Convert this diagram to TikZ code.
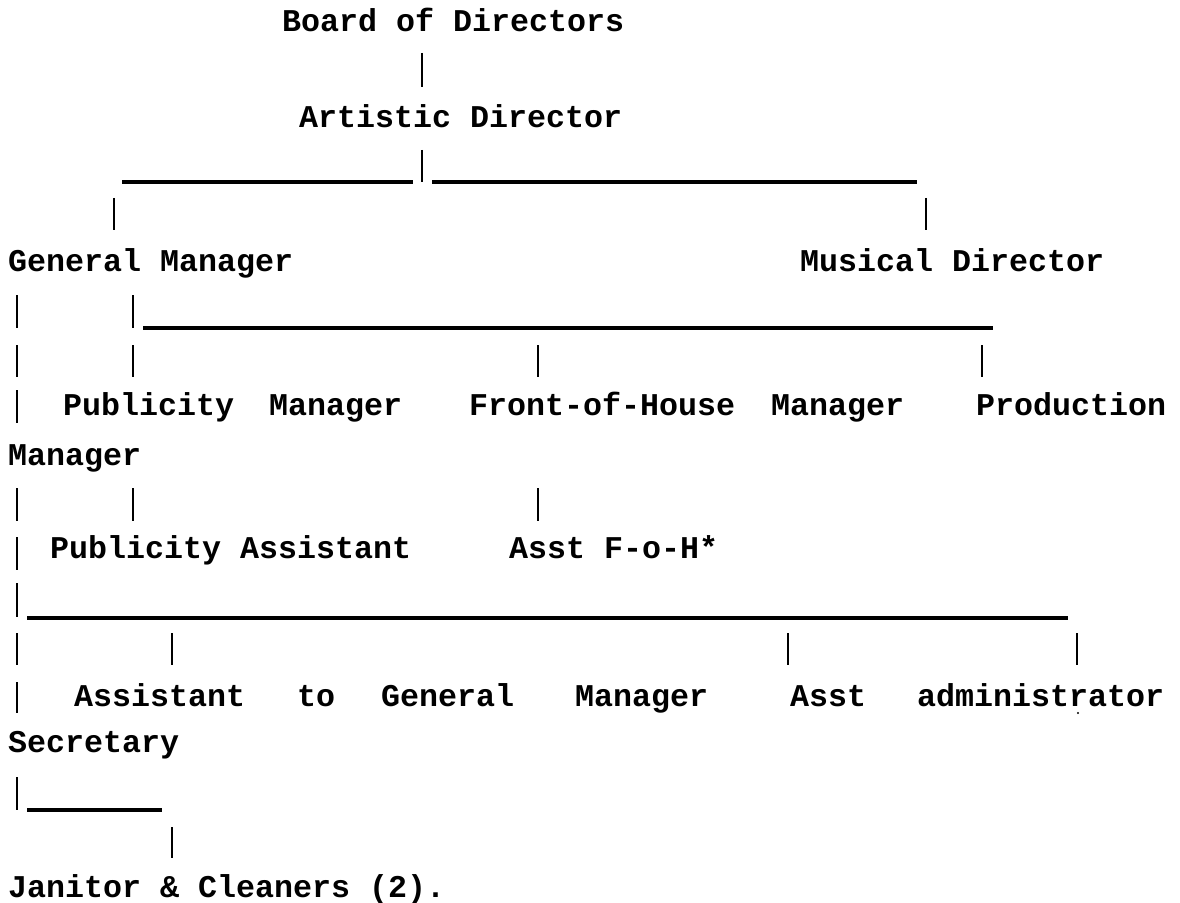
\documentclass[tikz,border=0pt]{standalone}
\usepackage{fontspec}
\setmonofont{Liberation Mono}
\begin{document}
\begin{tikzpicture}[x=0.75pt,y=-0.75pt,
  lbl/.style={anchor=base west,inner sep=0pt,outer sep=0pt,
    font=\ttfamily\bfseries\fontsize{23.75}{28}\selectfont},
  vbar/.style={line width=1.9pt},
  hbar/.style={line width=2.4pt}]
\useasboundingbox (0,0) rectangle (1180,902);
% ---- texts ----
\node[lbl] (board) at (282,32) {Board of Directors};
\node[lbl] (artistic) at (299,128) {Artistic Director};
\node[lbl] (gm) at (8,272) {General Manager};
\node[lbl] (md) at (800,272) {Musical Director};
\node[lbl] (pubA) at (63,415) {Publicity};
\node[lbl] (pubB) at (269,415) {Manager};
\node[lbl] (fohA) at (469,415) {Front-of-House};
\node[lbl] (fohB) at (771,415) {Manager};
\node[lbl] (prodA) at (976,415) {Production};
\node[lbl] (prodB) at (8,465) {Manager};
\node[lbl] (pubass) at (50,558) {Publicity Assistant};
\node[lbl] (afoh) at (509,558) {Asst F-o-H*};
\node[lbl] (agmA) at (74,706) {Assistant};
\node[lbl] (agmB) at (297,706) {to};
\node[lbl] (agmC) at (381,706) {General};
\node[lbl] (agmD) at (575,706) {Manager};
\node[lbl] (aadA) at (790,706) {Asst};
\node[lbl] (aadB) at (917,706) {administrator};
\node[lbl] (sec) at (8,752) {Secretary};
\node[lbl] (jan) at (8,897) {Janitor \& Cleaners (2).};
% stray typed dot under the first r of "administrator"
\fill (1078,713) circle (1.2);
% ---- connectors (typed bars and rules) ----
\draw[vbar] (422,53) -- (422,87);
\draw[vbar] (422,150) -- (422,182);
\draw[hbar] (122,182) -- (413,182);
\draw[hbar] (432,182) -- (917,182);
\draw[vbar] (114,198) -- (114,230);
\draw[vbar] (926,198) -- (926,230);
\draw[vbar] (17,295) -- (17,328);
\draw[vbar] (133,295) -- (133,328);
\draw[hbar] (143,328) -- (993,328);
\foreach \x in {17,133,538,982} \draw[vbar] (\x,345) -- (\x,377);
\draw[vbar] (17,390) -- (17,423);
\foreach \x in {17,133,538} \draw[vbar] (\x,488) -- (\x,521);
\draw[vbar] (17,537) -- (17,570);
\draw[vbar] (17,583) -- (17,617);
\draw[hbar] (27,618) -- (1068,618);
\foreach \x in {17,172,788,1077} \draw[vbar] (\x,633) -- (\x,665);
\draw[vbar] (17,682) -- (17,713);
\draw[vbar] (17,777) -- (17,810);
\draw[hbar] (27,810) -- (162,810);
\draw[vbar] (172,827) -- (172,858);
\end{tikzpicture}
\end{document}
